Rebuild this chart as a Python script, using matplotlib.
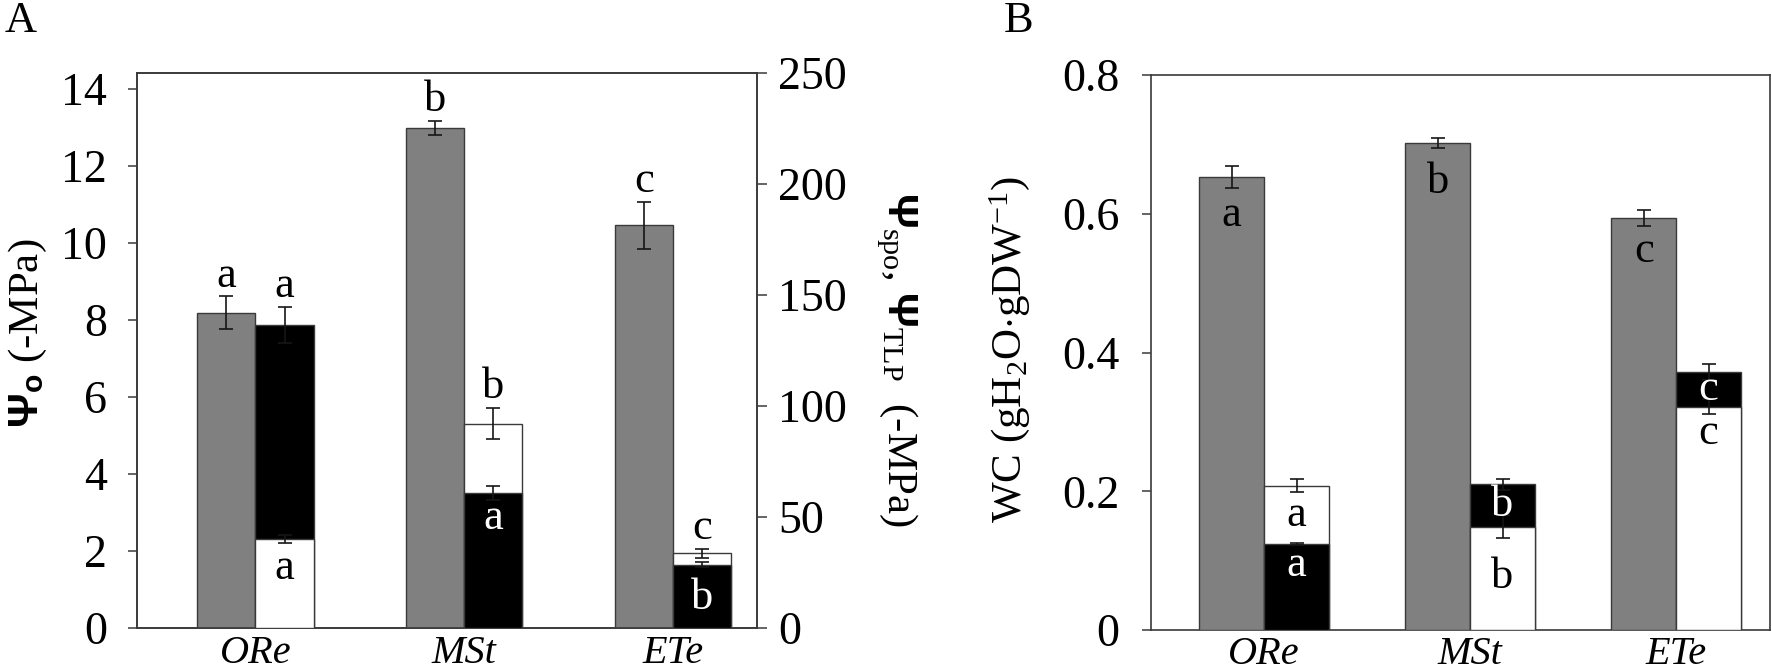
import matplotlib
matplotlib.use('Agg')
import matplotlib.pyplot as plt
import numpy as np

plt.rcParams['font.family'] = ['Liberation Serif', 'DejaVu Serif']
plt.rcParams['mathtext.fontset'] = 'custom'
plt.rcParams['mathtext.rm'] = 'Liberation Serif'
plt.rcParams['mathtext.it'] = 'Liberation Serif:italic'
plt.rcParams['mathtext.sf'] = 'Liberation Sans:bold'
plt.rcParams['mathtext.bf'] = 'Liberation Serif:bold'

# ---------------- data ----------------
categories = ['ORe', 'MSt', 'ETe']

# Panel A
psi_o = [8.19, 13.0, 10.46]
psi_o_err = [0.43, 0.18, 0.62]
psi_black_A = [136.5, 60.7, 28.6]
psi_black_A_err = [8.3, 3.1, 1.0]
psi_white_A = [40.0, 92.0, 33.6]
psi_white_A_err = [1.9, 7.0, 1.9]
letters_gray_A = ['a', 'b', 'c']
letters_black_A = ['a', 'a', 'b']
letters_white_A = ['a', 'b', 'c']
yticks_A_left = [0, 2, 4, 6, 8, 10, 12, 14]
yticks_A_right = [0, 50, 100, 150, 200, 250]

# Panel B
wc_gray = [0.653, 0.702, 0.594]
wc_gray_err = [0.016, 0.0075, 0.0115]
wc_white = [0.208, 0.149, 0.322]
wc_white_err = [0.009, 0.017, 0.011]
wc_black = [0.124, 0.210, 0.372]
wc_black_err = [0.002, 0.008, 0.012]
letters_gray_B = ['a', 'b', 'c']
letters_white_B = ['a', 'b', 'c']
letters_black_B = ['a', 'b', 'c']
yticks_B = [0, 0.2, 0.4, 0.6, 0.8]
ytick_labels_B = ['0', '0.2', '0.4', '0.6', '0.8']

# ---------------- style / layout ----------------
W, H = 1772, 672
GRAY = '#808080'
EDGE = '#3a3a3a'
SPINE = '#3a3a3a'
TICK_FS = 33
XT_FS = 29
LET_FS = 32
err_kw = dict(fmt='none', ecolor='#161616', elinewidth=1.2, capsize=5, capthick=1.2, zorder=6)

# letter offsets (points) for letters drawn inside the front bar
front_off_A = [-29, -25.5, -31.7]
gray_off_B = [-35, -36, -31.7]
front_off_B = [-23, -44, -27]

fig = plt.figure(figsize=(W / 100, H / 100), dpi=100)
axA = fig.add_axes([136.7 / W, 1 - 628 / H, 620.3 / W, 555 / H])
axB = fig.add_axes([1151 / W, 1 - 630 / H, 619 / W, 555 / H])

x = np.arange(len(categories))


def style_axis(ax):
    for s in ax.spines.values():
        s.set_color(SPINE)
        s.set_linewidth(1.2)


def put_letter(ax, xx, yy, txt, dy_pt, color='black', va='baseline'):
    ax.annotate(txt, xy=(xx, yy), xytext=(0, dy_pt), textcoords='offset points',
                ha='center', va=va, fontsize=LET_FS, color=color, zorder=8)


# ---------------- Panel A ----------------
wA = 0.278
axA.set_xlim(-0.569, 2.402)
axA.set_ylim(0, 14.42)
axA.bar(x - wA / 2, psi_o, wA, color=GRAY, edgecolor=EDGE, linewidth=1.0, zorder=3)
axA.errorbar(x - wA / 2, psi_o, yerr=psi_o_err, **err_kw)
for i in range(3):
    put_letter(axA, x[i] - wA / 2, psi_o[i] + psi_o_err[i], letters_gray_A[i], 7)

axA2 = axA.twinx()
axA2.set_ylim(0, 250)
for i in range(3):
    pairs = [(psi_black_A[i], psi_black_A_err[i], 'black', letters_black_A[i]),
             (psi_white_A[i], psi_white_A_err[i], 'white', letters_white_A[i])]
    pairs.sort(key=lambda p: -p[0])
    (bv, be, bc, bl), (fv, fe, fc, fl) = pairs
    xx = x[i] + wA / 2
    axA2.bar(xx, bv, wA, color=bc, edgecolor=EDGE, linewidth=1.0, zorder=3)
    axA2.bar(xx, fv, wA, color=fc, edgecolor=EDGE, linewidth=1.0, zorder=4)
    axA2.errorbar([xx], [bv], yerr=[be], **err_kw)
    axA2.errorbar([xx], [fv], yerr=[fe], **err_kw)
    put_letter(axA2, xx, bv + be, bl, 7)
    put_letter(axA2, xx, fv, fl, front_off_A[i],
               color='white' if fc == 'black' else 'black')

axA.set_yticks(yticks_A_left)
axA.set_yticklabels([str(t) for t in yticks_A_left])
axA2.set_yticks(yticks_A_right)
axA2.set_yticklabels([str(t) for t in yticks_A_right])
axA.set_xticks(x)
axA.set_xticklabels(categories, fontstyle='italic', fontsize=XT_FS)
axA.tick_params(axis='y', direction='out', length=6.5, width=1.1, color=SPINE,
                pad=15, labelsize=TICK_FS)
axA.tick_params(axis='x', length=0, pad=5)
axA2.tick_params(axis='y', direction='out', length=7, width=1.1, color=SPINE,
                 pad=8, labelsize=TICK_FS)
style_axis(axA)
style_axis(axA2)

# ---------------- Panel B ----------------
wB = 0.315
axB.set_xlim(-0.549, 2.456)
axB.set_ylim(0, 0.8)
axB.bar(x - wB / 2, wc_gray, wB, color=GRAY, edgecolor=EDGE, linewidth=1.0, zorder=3)
axB.errorbar(x - wB / 2, wc_gray, yerr=wc_gray_err, **err_kw)
for i in range(3):
    put_letter(axB, x[i] - wB / 2, wc_gray[i], letters_gray_B[i], gray_off_B[i])
    pairs = [(wc_black[i], wc_black_err[i], 'black', letters_black_B[i]),
             (wc_white[i], wc_white_err[i], 'white', letters_white_B[i])]
    pairs.sort(key=lambda p: -p[0])
    (bv, be, bc, bl), (fv, fe, fc, fl) = pairs
    xx = x[i] + wB / 2
    axB.bar(xx, bv, wB, color=bc, edgecolor=EDGE, linewidth=1.0, zorder=3)
    axB.bar(xx, fv, wB, color=fc, edgecolor=EDGE, linewidth=1.0, zorder=4)
    axB.errorbar([xx], [bv], yerr=[be], **err_kw)
    axB.errorbar([xx], [fv], yerr=[fe], **err_kw)
    put_letter(axB, xx, (bv + fv) / 2, bl, 0,
               color='white' if bc == 'black' else 'black', va='center')
    put_letter(axB, xx, fv, fl, front_off_B[i],
               color='white' if fc == 'black' else 'black')

axB.set_yticks(yticks_B)
axB.set_yticklabels(ytick_labels_B)
axB.set_xticks(x)
axB.set_xticklabels(categories, fontstyle='italic', fontsize=XT_FS)
axB.tick_params(axis='y', direction='out', length=6.5, width=1.1, color=SPINE,
                pad=16, labelsize=TICK_FS)
axB.tick_params(axis='x', length=0, pad=4)
style_axis(axB)

# ---------------- labels ----------------
fig.text(5 / W, 1 - 1 / H, 'A', fontsize=32, ha='left', va='top')
fig.text(1004 / W, 1 - 1 / H, 'B', fontsize=32, ha='left', va='top')

fig.text(28 / W, 1 - 333 / H, r'$\mathsf{Ψ}_{\mathsf{o}}$ (-MPa)', fontsize=31,
         rotation=90, ha='center', va='center')
fig.text(897 / W, 1 - 359 / H,
         r'$\mathsf{Ψ}_{\rm spo}$, $\mathsf{Ψ}_{\rm TLP}$  (-MPa)', fontsize=31,
         rotation=270, ha='center', va='center')
fig.text(1010 / W, 1 - 349 / H, r'WC (gH$_2$O$\cdot$gDW$^{-1}$)', fontsize=31,
         rotation=90, ha='center', va='center')

fig.savefig('out.png', dpi=100)
